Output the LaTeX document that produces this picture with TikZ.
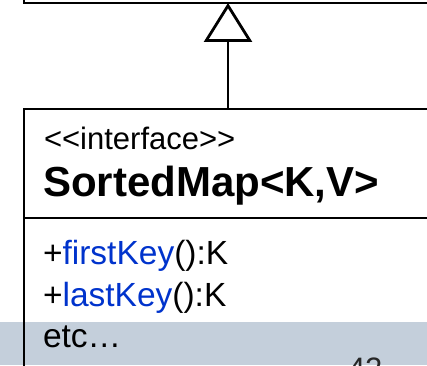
\documentclass[tikz,border=0pt]{standalone}
\usepackage{fontspec}
\newfontfamily\umlfont{Liberation Sans}
\usetikzlibrary{arrows.meta}
\definecolor{slideband}{HTML}{C4CFDB}
\definecolor{opblue}{HTML}{0033CC}

\begin{document}
\begin{tikzpicture}
[x=0.5pt,y=0.5pt,line width=1.4pt,%
  every node/.style={inner sep=0pt,outer sep=0pt},
  umlbox/.style={draw,rectangle,minimum width=300pt},
  label/.style={anchor=base west,font=\umlfont\fontsize{16.75}{20}\selectfont},
  inherits/.style={-{Triangle[open,length=19.5pt,width=24pt]}}]
\useasboundingbox (0,0) rectangle (427,365);
\clip (0,0) rectangle (427,365);
% slide footer band
\fill[slideband] (0,0) rectangle (427,43);
% boxes
\node[umlbox,minimum height=30pt,anchor=south west] (map) at (24,362) {};
\node[umlbox,minimum height=150pt,anchor=north west] (sortedmap) at (24,256) {};
\coordinate (divider) at (24,147);
\draw (divider) -- (divider -| sortedmap.east);
% inheritance
\coordinate (sub) at (228,256);
\coordinate (super) at (228,362);
\draw[inherits] (sub) -- (super);
% texts
\node[label,font=\umlfont\fontsize{15.5}{18}\selectfont] (stereo) at (44,216) {<{}<interface>{}>};
\node[label,font=\umlfont\bfseries\fontsize{21}{25}\selectfont] (title) at (43,169) {SortedMap<K,V>};
\node[label] (firstkey) at (43,101) {+\textcolor{opblue}{firstKey}():K};
\node[label] (lastkey) at (43,59) {+\textcolor{opblue}{lastKey}():K};
\node[label] (etc) at (43,18) {etc…};
\node[label,font=\umlfont\fontsize{15.5}{18}\selectfont,text=black!85] (pagenum) at (348,-14) {42};
\end{tikzpicture}
\end{document}
